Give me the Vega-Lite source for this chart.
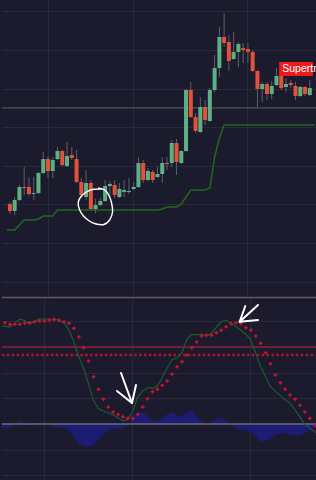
{
  "$schema": "https://vega.github.io/schema/vega-lite/v6.json",
  "padding": 0,
  "spacing": 0,
  "background": "#1c1b2e",
  "config": {
    "view": {"stroke": null},
    "axis": {"labels": false, "ticks": false, "domain": false, "title": null, "grid": true, "gridColor": "#2a293c", "gridWidth": 1}
  },
  "datasets": {
    "candles": [
      {"i":0,"o":110.10,"h":110.62,"l":107.51,"c":108.29},
      {"i":1,"o":108.29,"h":111.92,"l":107.25,"c":111.14},
      {"i":2,"o":111.14,"h":115.03,"l":110.88,"c":114.51},
      {"i":3,"o":114.51,"h":119.69,"l":112.44,"c":114.25},
      {"i":4,"o":114.51,"h":117.10,"l":112.18,"c":112.69},
      {"i":5,"o":112.69,"h":117.10,"l":111.14,"c":112.95},
      {"i":6,"o":112.95,"h":118.39,"l":112.69,"c":118.14},
      {"i":7,"o":118.14,"h":123.58,"l":117.88,"c":121.76},
      {"i":8,"o":121.76,"h":122.54,"l":116.84,"c":118.65},
      {"i":9,"o":118.65,"h":122.28,"l":116.84,"c":121.50},
      {"i":10,"o":121.76,"h":124.87,"l":121.50,"c":123.84},
      {"i":11,"o":123.84,"h":124.09,"l":119.95,"c":120.21},
      {"i":12,"o":119.95,"h":126.17,"l":119.69,"c":122.54},
      {"i":13,"o":122.80,"h":124.87,"l":121.50,"c":122.02},
      {"i":14,"o":121.76,"h":124.09,"l":115.54,"c":115.80},
      {"i":15,"o":115.80,"h":116.84,"l":111.66,"c":112.44},
      {"i":16,"o":111.92,"h":118.91,"l":111.14,"c":115.54},
      {"i":17,"o":115.54,"h":116.32,"l":108.55,"c":108.81},
      {"i":18,"o":108.81,"h":111.40,"l":107.77,"c":109.84},
      {"i":19,"o":109.84,"h":111.66,"l":109.59,"c":110.88},
      {"i":20,"o":110.88,"h":116.32,"l":110.62,"c":114.77},
      {"i":21,"o":114.77,"h":116.06,"l":111.66,"c":115.29},
      {"i":22,"o":115.03,"h":116.32,"l":111.66,"c":112.44},
      {"i":23,"o":111.92,"h":115.54,"l":111.66,"c":113.99},
      {"i":24,"o":113.21,"h":116.32,"l":111.92,"c":113.73},
      {"i":25,"o":113.21,"h":116.84,"l":112.69,"c":113.47},
      {"i":26,"o":113.99,"h":115.80,"l":113.73,"c":114.51},
      {"i":27,"o":114.51,"h":122.28,"l":114.25,"c":120.73},
      {"i":28,"o":120.73,"h":121.50,"l":115.54,"c":116.32},
      {"i":29,"o":116.32,"h":119.43,"l":116.06,"c":118.65},
      {"i":30,"o":118.39,"h":118.91,"l":115.54,"c":116.32},
      {"i":31,"o":117.10,"h":119.69,"l":116.84,"c":117.88},
      {"i":32,"o":117.88,"h":122.28,"l":115.54,"c":120.73},
      {"i":33,"o":120.73,"h":122.28,"l":118.91,"c":120.47},
      {"i":34,"o":120.73,"h":126.69,"l":119.69,"c":125.91},
      {"i":35,"o":125.91,"h":126.95,"l":117.62,"c":120.99},
      {"i":36,"o":120.73,"h":124.09,"l":120.47,"c":123.84},
      {"i":37,"o":123.84,"h":139.90,"l":123.58,"c":139.64},
      {"i":38,"o":139.64,"h":141.71,"l":132.39,"c":132.65},
      {"i":39,"o":132.65,"h":133.68,"l":128.50,"c":129.02},
      {"i":40,"o":128.76,"h":137.83,"l":128.50,"c":135.24},
      {"i":41,"o":135.24,"h":137.05,"l":130.57,"c":131.87},
      {"i":42,"o":131.61,"h":140.16,"l":131.35,"c":139.64},
      {"i":43,"o":139.64,"h":148.71,"l":139.12,"c":145.34},
      {"i":44,"o":145.34,"h":155.96,"l":143.01,"c":153.37},
      {"i":45,"o":153.37,"h":159.59,"l":150.78,"c":151.82},
      {"i":46,"o":152.08,"h":153.89,"l":144.56,"c":147.15},
      {"i":47,"o":147.67,"h":154.67,"l":147.41,"c":149.49},
      {"i":48,"o":149.49,"h":152.08,"l":145.60,"c":151.56},
      {"i":49,"o":150.52,"h":151.82,"l":146.64,"c":150.00},
      {"i":50,"o":150.26,"h":151.82,"l":146.64,"c":149.49},
      {"i":51,"o":149.49,"h":150.00,"l":144.30,"c":144.56},
      {"i":52,"o":144.56,"h":144.82,"l":135.24,"c":139.90},
      {"i":53,"o":139.90,"h":141.71,"l":136.53,"c":141.20},
      {"i":54,"o":141.20,"h":141.71,"l":137.05,"c":138.60},
      {"i":55,"o":138.60,"h":141.97,"l":137.31,"c":140.68},
      {"i":56,"o":140.94,"h":145.34,"l":140.68,"c":143.27},
      {"i":57,"o":143.27,"h":144.30,"l":139.64,"c":140.16},
      {"i":58,"o":140.42,"h":142.75,"l":139.12,"c":141.20},
      {"i":59,"o":141.45,"h":142.23,"l":140.16,"c":140.94},
      {"i":60,"o":140.68,"h":141.71,"l":137.05,"c":138.09},
      {"i":61,"o":138.09,"h":140.68,"l":137.83,"c":140.42},
      {"i":62,"o":140.42,"h":140.68,"l":138.09,"c":138.60},
      {"i":63,"o":138.35,"h":142.23,"l":138.09,"c":140.16}
    ],
    "supertrend": [
      {"i":-0.6,"st":103.37},{"i":1,"st":103.37},{"i":2,"st":104.66},{"i":3,"st":105.96},{"i":5,"st":105.96},
      {"i":6,"st":106.22},{"i":7,"st":106.99},{"i":9,"st":106.99},{"i":10,"st":108.55},{"i":31,"st":108.55},
      {"i":32,"st":108.81},{"i":33,"st":109.33},{"i":35,"st":109.33},{"i":36,"st":110.10},{"i":37,"st":111.92},
      {"i":38,"st":113.73},{"i":41,"st":113.73},{"i":42,"st":114.25},{"i":43,"st":122.28},{"i":44,"st":127.2},
      {"i":45,"st":130.57},{"i":64,"st":130.57}
    ],
    "circle": [
      {"n":1,"i":19.12,"p":113.99},{"n":2,"i":17.29,"p":113.86},{"n":3,"i":16.07,"p":113.21},{"n":4,"i":14.85,"p":111.92},
      {"n":5,"i":14.34,"p":110.36},{"n":6,"i":14.65,"p":108.55},{"n":7,"i":15.46,"p":106.99},{"n":8,"i":16.68,"p":105.70},
      {"n":9,"i":18.10,"p":104.92},{"n":10,"i":19.73,"p":104.79},{"n":11,"i":20.95,"p":105.96},{"n":12,"i":21.56,"p":108.03},
      {"n":13,"i":21.36,"p":110.36},{"n":14,"i":20.75,"p":112.44},{"n":15,"i":19.93,"p":113.73},{"n":16,"i":18.51,"p":114.25}
    ],
    "osc": [
      {"i":-0.6,"k":76.3,"h":-2.9},
      {"i":0,"k":75.9,"d":78.8,"h":-3.1},
      {"i":1,"k":75.6,"d":77.6,"h":-2.3},
      {"i":2,"k":78.6,"d":77.6,"h":-0.2},
      {"i":3,"k":81.5,"d":77.6,"h":2.3},
      {"i":4,"k":80.5,"d":78.4,"h":0.6},
      {"i":5,"k":77.8,"d":78.8,"h":-0.9},
      {"i":6,"k":79.8,"d":79.6,"h":0.4},
      {"i":7,"k":81.9,"d":80.2,"h":1.6},
      {"i":8,"k":81.7,"d":80.2,"h":0.7},
      {"i":9,"k":81.5,"d":80.9,"h":-0.3},
      {"i":10,"k":81.9,"d":81.2,"h":-2.1},
      {"i":11,"k":80.5,"d":80.7,"h":-2.6},
      {"i":12,"k":78.6,"d":79.6,"h":-2.9},
      {"i":13,"k":73.5,"d":78.4,"h":-4.7},
      {"i":14,"k":63.8,"d":74.5,"h":-10.8},
      {"i":15,"k":52.5,"d":67.7,"h":-15.8},
      {"i":16,"k":43.0,"d":59.4,"h":-16.7},
      {"i":17,"k":31.1,"d":49.0,"h":-17.8},
      {"i":18,"k":18.4,"d":36.8,"h":-16.3},
      {"i":19,"k":12.1,"d":27.0,"h":-12.5},
      {"i":20,"k":10.1,"d":19.2,"h":-7.3},
      {"i":21,"k":8.6,"d":13.2,"h":-4.6},
      {"i":22,"k":7.2,"d":9.3,"h":-3.9},
      {"i":23,"k":4.8,"d":7.5,"h":-3.6},
      {"i":24,"k":2.4,"d":5.7,"h":-3.0},
      {"i":25,"k":3.7,"d":4.4,"h":-1.4},
      {"i":26,"k":9.7,"d":4.4,"h":6.4},
      {"i":27,"k":21.2,"d":7.5,"h":8.9},
      {"i":28,"k":25.8,"d":13.2,"h":9.5},
      {"i":29,"k":28.2,"d":19.7,"h":6.0},
      {"i":30,"k":27.9,"d":25.1,"h":2.7},
      {"i":31,"k":29.6,"d":27.0,"h":1.9},
      {"i":32,"k":36.4,"d":30.1,"h":4.9},
      {"i":33,"k":43.6,"d":33.5,"h":7.5},
      {"i":34,"k":50.0,"d":38.7,"h":9.6},
      {"i":35,"k":51.6,"d":44.6,"h":6.7},
      {"i":36,"k":55.3,"d":48.5,"h":5.4},
      {"i":37,"k":65.8,"d":53.7,"h":9.3},
      {"i":38,"k":69.8,"d":59.4,"h":9.9},
      {"i":39,"k":69.3,"d":63.8,"h":5.8},
      {"i":40,"k":70.0,"d":68.5,"h":2.3},
      {"i":41,"k":68.6,"d":69.0,"h":-0.2},
      {"i":42,"k":70.5,"d":69.0,"h":1.6},
      {"i":43,"k":75.3,"d":71.0,"h":4.0},
      {"i":44,"k":79.6,"d":72.9,"h":4.7},
      {"i":45,"k":80.9,"d":75.7,"h":2.0},
      {"i":46,"k":78.3,"d":78.1,"h":-1.2},
      {"i":47,"k":75.9,"d":78.8,"h":-3.3},
      {"i":48,"k":73.0,"d":78.1,"h":-4.5},
      {"i":49,"k":69.8,"d":74.9,"h":-4.9},
      {"i":50,"k":65.5,"d":72.9,"h":-5.9},
      {"i":51,"k":55.3,"d":68.5,"h":-9.7},
      {"i":52,"k":44.7,"d":62.8,"h":-13.6},
      {"i":53,"k":36.8,"d":55.5,"h":-13.2},
      {"i":54,"k":29.0,"d":46.9,"h":-11.5},
      {"i":55,"k":25.4,"d":38.1,"h":-7.9},
      {"i":56,"k":22.3,"d":32.1,"h":-7.2},
      {"i":57,"k":18.8,"d":27.0,"h":-7.0},
      {"i":58,"k":15.9,"d":22.6,"h":-8.4},
      {"i":59,"k":11.1,"d":19.2,"h":-8.8},
      {"i":60,"k":5.3,"d":14.6,"h":-9.1},
      {"i":61,"k":-0.2,"d":9.3,"h":-6.6},
      {"i":62,"k":-3.4,"d":4.4,"h":-4.8},
      {"i":63,"k":-6.1,"d":-0.8,"h":-2.9},
      {"i":64,"k":-8.5,"h":-4.3}
    ],
    "arrows": [
      {"x1":23.60,"y1":39.69,"x2":25.83,"y2":16.34},
      {"x1":22.78,"y1":25.68,"x2":25.83,"y2":16.34},
      {"x1":26.65,"y1":30.35,"x2":25.83,"y2":16.34},
      {"x1":51.46,"y1":92.61,"x2":47.74,"y2":79.61},
      {"x1":48.88,"y1":91.83,"x2":47.74,"y2":79.61},
      {"x1":51.46,"y1":80.93,"x2":47.74,"y2":79.61}
    ]
  },
  "vconcat": [
    {
      "width": 316,
      "height": 296,
      "layer": [
        {
          "data": {"values": [{"lvl": 135.0}]},
          "mark": {"type": "rule", "color": "#4b6a5a", "strokeWidth": 1},
          "encoding": {
            "y": {"field": "lvl", "type": "quantitative", "scale": {"domain": [86.27, 162.96], "nice": false, "zero": false},
                  "axis": {"values": [90, 100, 110, 120, 130, 140, 150, 160]}}
          }
        },
        {
          "data": {"name": "supertrend"},
          "mark": {"type": "line", "color": "#1d6a1d", "strokeWidth": 1.5, "clip": true},
          "encoding": {
            "x": {"field": "i", "type": "quantitative", "scale": {"domain": [-0.61, 63.67], "nice": false, "zero": false},
                  "axis": {"values": [7.93, 25.83, 49.84]}},
            "y": {"field": "st", "type": "quantitative"}
          }
        },
        {
          "data": {"name": "candles"},
          "mark": {"type": "rule", "color": "#5e5e6c", "strokeWidth": 1},
          "encoding": {
            "x": {"field": "i", "type": "quantitative"},
            "y": {"field": "l", "type": "quantitative"},
            "y2": {"field": "h"}
          }
        },
        {
          "data": {"name": "candles"},
          "mark": {"type": "bar", "size": 4},
          "encoding": {
            "x": {"field": "i", "type": "quantitative"},
            "y": {"field": "o", "type": "quantitative"},
            "y2": {"field": "c"},
            "color": {"condition": {"test": "datum.c >= datum.o", "value": "#5daf84"}, "value": "#e2513a"}
          }
        },
        {
          "data": {"name": "circle"},
          "mark": {"type": "line", "color": "#ffffff", "strokeWidth": 1.4, "interpolate": "cardinal"},
          "encoding": {
            "x": {"field": "i", "type": "quantitative"},
            "y": {"field": "p", "type": "quantitative"},
            "order": {"field": "n"}
          }
        },
        {
          "data": {"values": [{"a": 56.55, "b": 63.67, "top": 146.9, "bot": 143.27}]},
          "mark": {"type": "rect", "color": "#ee1a1a", "clip": true},
          "encoding": {
            "x": {"field": "a", "type": "quantitative"},
            "x2": {"field": "b"},
            "y": {"field": "top", "type": "quantitative"},
            "y2": {"field": "bot"}
          }
        },
        {
          "data": {"values": [{"i": 57.2, "p": 145.0, "t": "Supertrend"}]},
          "mark": {"type": "text", "color": "#ffffff", "font": "Liberation Sans", "fontSize": 10.5, "align": "left", "baseline": "middle", "clip": true},
          "encoding": {
            "x": {"field": "i", "type": "quantitative"},
            "y": {"field": "p", "type": "quantitative"},
            "text": {"field": "t"}
          }
        }
      ]
    },
    {
      "width": 316,
      "height": 184,
      "layer": [
        {
          "data": {"name": "osc"},
          "mark": {"type": "area", "color": "#1c1c72", "opacity": 1, "clip": true},
          "encoding": {
            "x": {"field": "i", "type": "quantitative", "scale": {"domain": [-0.61, 63.67], "nice": false, "zero": false},
                  "axis": {"values": [7.93, 25.83, 49.84]}},
            "y": {"field": "h", "type": "quantitative", "scale": {"domain": [-44.36, 98.83], "nice": false, "zero": false},
                  "axis": {"values": [-40, -20, 20, 40, 80]}},
            "y2": {"datum": 0}
          }
        },
        {
          "data": {"values": [{"v": 0}]},
          "mark": {"type": "rule", "color": "#6c6c7c", "strokeWidth": 1.5},
          "encoding": {"y": {"field": "v", "type": "quantitative"}}
        },
        {
          "data": {"values": [{"v": 98.4}]},
          "mark": {"type": "rule", "color": "#5c5c56", "strokeWidth": 1.5},
          "encoding": {"y": {"field": "v", "type": "quantitative"}}
        },
        {
          "data": {"values": [{"v": 60}]},
          "mark": {"type": "rule", "color": "#6e1f35", "strokeWidth": 2},
          "encoding": {"y": {"field": "v", "type": "quantitative"}}
        },
        {
          "data": {"values": [{"v": 53.7}]},
          "mark": {"type": "rule", "color": "#b3122c", "strokeWidth": 2.5, "strokeDash": [2.5, 2.4]},
          "encoding": {"y": {"field": "v", "type": "quantitative"}}
        },
        {
          "data": {"name": "osc"},
          "mark": {"type": "line", "color": "#1e5a2c", "strokeWidth": 1.2, "clip": true},
          "encoding": {
            "x": {"field": "i", "type": "quantitative"},
            "y": {"field": "k", "type": "quantitative"}
          }
        },
        {
          "data": {"name": "osc"},
          "mark": {"type": "point", "shape": "cross", "filled": true, "size": 13, "color": "#c8142e", "opacity": 1},
          "encoding": {
            "x": {"field": "i", "type": "quantitative"},
            "y": {"field": "d", "type": "quantitative"}
          }
        },
        {
          "data": {"name": "arrows"},
          "mark": {"type": "rule", "color": "#ffffff", "strokeWidth": 2, "strokeCap": "round"},
          "encoding": {
            "x": {"field": "x1", "type": "quantitative"},
            "y": {"field": "y1", "type": "quantitative"},
            "x2": {"field": "x2"},
            "y2": {"field": "y2"}
          }
        }
      ]
    }
  ]
}
